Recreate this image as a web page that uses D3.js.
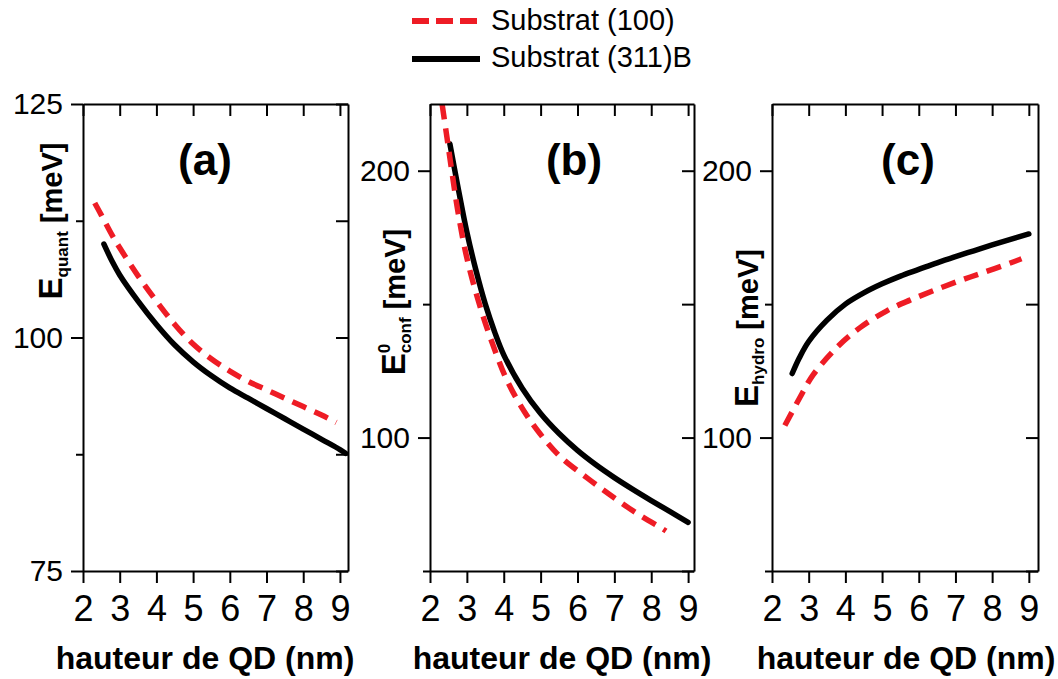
<!DOCTYPE html>
<html>
<head>
<meta charset="utf-8">
<script src="https://cdn.jsdelivr.net/npm/d3@7"></script>
<style>
  body { margin: 0; background: #fff; }
  svg { display: block; font-family: "Liberation Sans", Arial, Helvetica, sans-serif; }
</style>
</head>
<body>
<script>
// ---------------- DATA ----------------
const xTicks = [2, 3, 4, 5, 6, 7, 8, 9];
const seriesNames = ["Substrat (100)", "Substrat (311)B"];

// (a) E_quant
const hA100 = [2.32, 2.5, 2.8, 3.0, 3.5, 4.0, 4.5, 5.0, 5.5, 6.0, 6.5, 7.0, 7.5, 8.0, 8.5, 8.9];
const eA100 = [114.4, 113.1, 110.9, 109.6, 106.6, 103.9, 101.4, 99.3, 97.7, 96.4, 95.3, 94.4, 93.5, 92.6, 91.7, 90.9];
const hA311 = [2.57, 2.8, 3.0, 3.5, 4.0, 4.5, 5.0, 5.5, 6.0, 6.5, 7.0, 7.5, 8.0, 8.5, 9.0, 9.15];
const eA311 = [110.0, 108.1, 106.7, 103.9, 101.4, 99.2, 97.4, 95.9, 94.6, 93.5, 92.4, 91.3, 90.2, 89.1, 88.0, 87.6];

// (b) E0_conf
const hB100 = [2.33, 2.46, 2.6, 2.76, 3.0, 3.36, 3.76, 4.11, 4.57, 4.98, 5.52, 6.25, 6.88, 7.61, 8.31, 8.4];
const eB100 = [224.8, 212.5, 199.0, 184.5, 167.3, 149.0, 132.7, 120.8, 109.5, 101.5, 93.0, 85.0, 78.6, 71.6, 65.8, 65.0];
const hB311 = [2.54, 2.75, 3.0, 3.25, 3.5, 3.75, 4.0, 4.5, 5.0, 5.5, 6.0, 6.5, 7.0, 7.5, 8.0, 8.5, 9.0];
const eB311 = [210.0, 194.5, 177.0, 162.5, 150.0, 139.7, 131.0, 118.5, 109.0, 101.5, 95.2, 89.8, 85.0, 80.6, 76.4, 72.3, 68.2];

// (c) E_hydro
const hC100 = [2.35, 2.76, 3.12, 3.77, 4.4, 5.13, 5.76, 6.39, 7.12, 7.75, 8.57, 8.8];
const eC100 = [104.5, 115.0, 123.5, 133.8, 141.2, 147.5, 151.5, 155.0, 158.8, 161.8, 165.8, 167.0];
const hC311 = [2.55, 2.75, 3.0, 3.5, 4.0, 4.5, 5.0, 5.5, 6.0, 6.5, 7.0, 7.5, 8.0, 8.5, 9.0];
const eC311 = [124.0, 130.0, 136.0, 144.0, 150.0, 154.2, 157.6, 160.5, 163.0, 165.5, 167.8, 170.0, 172.2, 174.3, 176.3];

const yMajorA = [75, 100, 125], yMinorA = [87.5, 112.5];
const yMajorBC = [100, 200], yMinorBC = [50, 150];

// ---------------- LAYOUT ----------------
const W = 1058, H = 679;
const plotTop = 104, plotBottom = 571;
const red = "#ee1c25";

const panels = [
  { tag: "(a)", x0: 83, x1: 348, xMax: 9.22, yDom: [75, 125], yMajor: yMajorA, yMinor: yMinorA,
    s100: d3.zip(hA100, eA100), s311: d3.zip(hA311, eA311),
    lab: { main: "E", sup: null, sub: "quant" }, labX: 62, labY: 221, tagX: 205, titleX: 205 },
  { tag: "(b)", x0: 430, x1: 694, xMax: 9.16, yDom: [50, 225], yMajor: yMajorBC, yMinor: yMinorBC,
    s100: d3.zip(hB100, eB100), s311: d3.zip(hB311, eB311),
    lab: { main: "E", sup: "0", sub: "conf" }, labX: 405, labY: 302, tagX: 574, titleX: 562 },
  { tag: "(c)", x0: 772, x1: 1038, xMax: 9.25, yDom: [50, 225], yMajor: yMajorBC, yMinor: yMinorBC,
    s100: d3.zip(hC100, eC100), s311: d3.zip(hC311, eC311),
    lab: { main: "E", sup: null, sub: "hydro" }, labX: 758, labY: 328, tagX: 908, titleX: 906 }
];

const svg = d3.select("body").append("svg").attr("width", W).attr("height", H);

panels.forEach((p, i) => {
  const x = d3.scaleLinear().domain([2, p.xMax]).range([p.x0, p.x1]);
  const y = d3.scaleLinear().domain(p.yDom).range([plotBottom, plotTop]);
  const g = svg.append("g");

  const clipId = "clip" + i;
  svg.append("clipPath").attr("id", clipId).append("rect")
    .attr("x", p.x0).attr("y", plotTop - 4).attr("width", p.x1 - p.x0).attr("height", plotBottom - plotTop + 4);

  // curves
  const line = d3.line().x(d => x(d[0])).y(d => y(d[1])).curve(d3.curveCatmullRom.alpha(0.5));
  g.append("path").datum(p.s311).attr("d", line).attr("clip-path", `url(#${clipId})`)
    .attr("fill", "none").attr("stroke", "#000").attr("stroke-width", 5.5).attr("stroke-linecap", "round");
  g.append("path").datum(p.s100).attr("d", line).attr("clip-path", `url(#${clipId})`)
    .attr("fill", "none").attr("stroke", red).attr("stroke-width", 5.5)
    .attr("stroke-dasharray", "15,9");

  // axes
  const axStyle = sel => {
    sel.selectAll(".domain").attr("stroke", "#000").attr("stroke-width", 2);
    sel.selectAll(".tick line").attr("stroke", "#000").attr("stroke-width", 2);
  };
  const bx = g.append("g").attr("transform", `translate(0,${plotBottom})`)
    .call(d3.axisBottom(x).tickValues(xTicks).tickSize(12).tickSizeOuter(0).tickPadding(12).tickFormat(d3.format("d")));
  bx.call(axStyle);
  bx.selectAll("text").attr("font-size", 36).attr("fill", "#000").attr("font-family", "Liberation Sans, Arial, sans-serif");

  const tx = g.append("g").attr("transform", `translate(0,${plotTop})`)
    .call(d3.axisTop(x).tickValues(xTicks).tickSize(-12).tickSizeOuter(0).tickFormat(""));
  tx.call(axStyle);

  const ly = g.append("g").attr("transform", `translate(${p.x0},0)`)
    .call(d3.axisLeft(y).tickValues(p.yMajor).tickSize(12).tickSizeOuter(0).tickPadding(8).tickFormat(d3.format("d")));
  ly.call(axStyle);
  ly.selectAll("text").attr("font-size", 30).attr("fill", "#000").attr("font-family", "Liberation Sans, Arial, sans-serif");
  const lym = g.append("g").attr("transform", `translate(${p.x0},0)`)
    .call(d3.axisLeft(y).tickValues(p.yMinor).tickSize(7).tickSizeOuter(0).tickFormat(""));
  lym.call(axStyle);
  lym.select(".domain").remove();

  const ry = g.append("g").attr("transform", `translate(${p.x1},0)`)
    .call(d3.axisRight(y).tickValues(p.yMajor.concat(p.yMinor)).tickSize(-12).tickSizeOuter(0).tickFormat(""));
  ry.call(axStyle);

  // panel tag
  g.append("text").attr("x", p.tagX).attr("y", 175).attr("text-anchor", "middle")
    .attr("font-size", 44).attr("font-weight", "bold").text(p.tag);

  // x title
  g.append("text").attr("x", p.titleX).attr("y", 669).attr("text-anchor", "middle")
    .attr("font-size", 32).attr("font-weight", "bold").text("hauteur de QD (nm)");

  // y title
  const t = g.append("text").attr("transform", `translate(${p.labX},${p.labY}) rotate(-90)`)
    .attr("text-anchor", "middle").attr("font-weight", "bold").attr("font-size", 29);
  t.append("tspan").attr("font-size", 33).text(p.lab.main);
  if (p.lab.sup) {
    t.append("tspan").attr("font-size", 17).attr("dy", -15).text(p.lab.sup);
    t.append("tspan").attr("font-size", 17).attr("dx", -9.5).attr("dy", 21).text(p.lab.sub);
    t.append("tspan").attr("dy", -6).text(" [meV]");
  } else {
    t.append("tspan").attr("font-size", 17).attr("dy", 6).text(p.lab.sub);
    t.append("tspan").attr("dy", -6).text(" [meV]");
  }
});

// legend
const leg = svg.append("g");
leg.append("line").attr("x1", 412).attr("x2", 478).attr("y1", 21).attr("y2", 21)
  .attr("stroke", red).attr("stroke-width", 6).attr("stroke-dasharray", "17,7");
leg.append("line").attr("x1", 412).attr("x2", 480).attr("y1", 59).attr("y2", 59)
  .attr("stroke", "#000").attr("stroke-width", 6);
leg.append("text").attr("x", 491).attr("y", 30).attr("font-size", 29).text(seriesNames[0]);
leg.append("text").attr("x", 491).attr("y", 67).attr("font-size", 29).text(seriesNames[1]);
</script>
</body>
</html>
